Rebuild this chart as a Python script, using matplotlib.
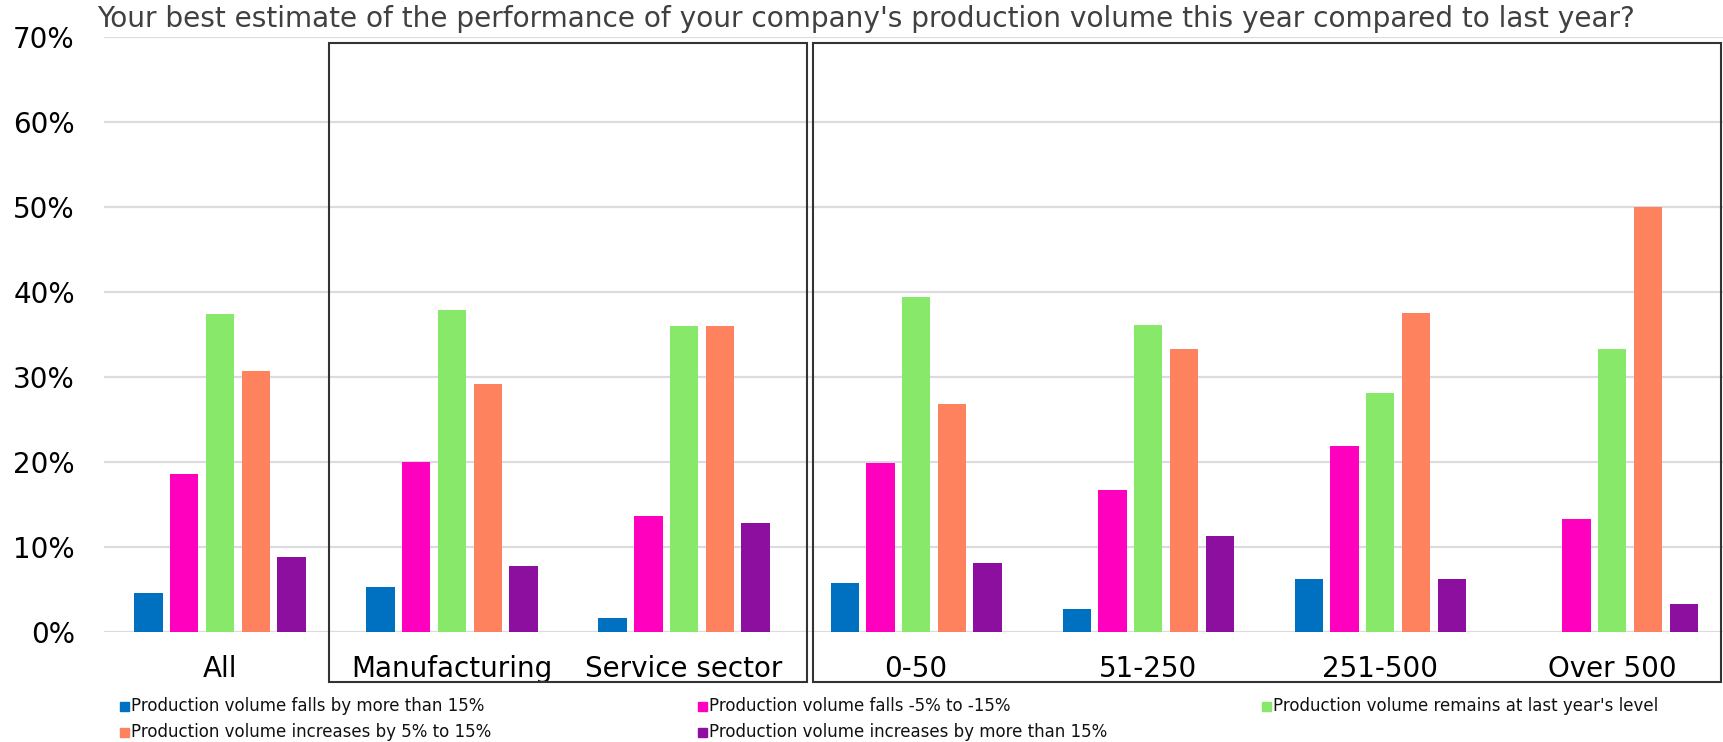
import numpy as np
import matplotlib
matplotlib.use('Agg')
import matplotlib.pyplot as plt
from matplotlib.patches import Rectangle
from matplotlib.ticker import PercentFormatter

# %%
categories = ['All', 'Manufacturing', 'Service sector', '0-50', '51-250', '251-500', 'Over 500']

series = ['Production volume falls by more than 15%',
          'Production volume falls -5% to -15%',
          "Production volume remains at last year's level",
          'Production volume increases by 5% to 15%',
          'Production volume increases by more than 15%']

falls_15 = [4.5, 5.3, 1.6, 5.7, 2.7, 6.25, 0.0]
falls_5_15 = [18.6, 20.0, 13.6, 19.9, 16.7, 21.9, 13.3]
same_level = [37.4, 37.8, 36.0, 39.4, 36.1, 28.1, 33.3]
incr_5_15 = [30.7, 29.2, 36.0, 26.8, 33.3, 37.5, 50.0]
incr_15 = [8.8, 7.7, 12.8, 8.1, 11.3, 6.25, 3.3]

colors = ['#0070C0', '#FF00BF', '#88E86A', '#FF825F', '#8C0FA0']

title = "Your best estimate of the performance of your company's production volume this year compared to last year?"

# %%
W, H = 1723, 742
fig = plt.figure(figsize=(W / 100, H / 100), dpi=100)
ax = fig.add_axes([104 / W, 110.3 / H, (W - 104) / W, 595 / H])

x = np.arange(len(categories))
vals = [falls_15, falls_5_15, same_level, incr_5_15, incr_15]
step, bw = 0.154, 0.122
for k, v in enumerate(vals):
    ax.bar(x + (k - 2) * step, np.array(v) / 100, bw, color=colors[k], linewidth=0, zorder=3)

ax.set_ylim(0, 0.7)
ax.set_xlim(-0.5, 6.477)
ax.set_yticks(np.arange(0, 0.71, 0.1))
ax.yaxis.set_major_formatter(PercentFormatter(1.0, decimals=0))
ax.set_xticks(x)
ax.set_xticklabels(categories)
ax.tick_params(axis='y', length=0, pad=21, labelsize=20)
ax.tick_params(axis='x', length=0, pad=17, labelsize=20)
ax.grid(axis='y', color='#DCDCE0', linewidth=1.6, zorder=0)
for s in ax.spines.values():
    s.set_visible(False)

# boxes around the sector and size groups
for x0, x1 in [(328.7, 806.7), (813.3, 1720.7)]:
    fig.patches.append(Rectangle((x0 / W, (H - 681.7) / H), (x1 - x0) / W, 639 / H,
                                 transform=fig.transFigure, fill=False,
                                 edgecolor='#333333', linewidth=1.5))

fig.text(97 / W, (H - 26.7) / H, title, fontsize=20.2, color='#404040', va='baseline')

# legend, 3 per row
legend_pos = [(120, 706), (698, 706), (1262, 706), (120, 732), (698, 732)]
for (lx, ly), lab, c in zip(legend_pos, series, colors):
    fig.patches.append(Rectangle((lx / W, (H - ly - 4.5) / H), 9 / W, 9 / H,
                                 transform=fig.transFigure, color=c))
    fig.text((lx + 11) / W, (H - ly) / H, lab, fontsize=12, va='center', color='#111111')

plt.savefig('out.png')
